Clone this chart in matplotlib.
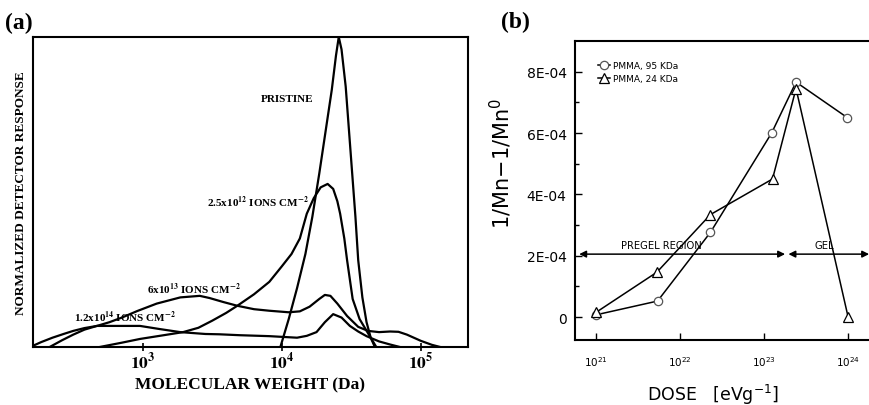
import matplotlib
matplotlib.use("Agg")
import matplotlib.pyplot as plt
import numpy as np

plt.rcParams['font.family'] = ['Liberation Serif', 'DejaVu Serif']
plt.rcParams['mathtext.fontset'] = 'stix'

# ---- panel (a): GPC traces, x as log10(MW) ----
pristine_logm = [3.99, 4.05, 4.11, 4.17, 4.22, 4.27, 4.31, 4.36, 4.39, 4.41, 4.43, 4.46,
                 4.48, 4.50, 4.53, 4.55, 4.58, 4.61, 4.64, 4.67]
pristine_resp = [0.0, 0.09, 0.19, 0.30, 0.42, 0.56, 0.68, 0.83, 0.94, 1.0, 0.96, 0.84,
                 0.72, 0.60, 0.42, 0.28, 0.16, 0.08, 0.03, 0.0]

d12_logm = [2.69, 2.85, 2.98, 3.15, 3.29, 3.40, 3.50, 3.60, 3.68, 3.80, 3.91, 4.00, 4.07,
            4.13, 4.18, 4.23, 4.28, 4.33, 4.37, 4.40, 4.42, 4.45, 4.47, 4.51, 4.56,
            4.60, 4.64, 4.68]
d12_resp = [0.0, 0.014, 0.026, 0.038, 0.048, 0.062, 0.085, 0.110, 0.133, 0.170, 0.21, 0.26,
            0.30, 0.35, 0.43, 0.48, 0.515, 0.526, 0.51, 0.47, 0.43, 0.35, 0.28, 0.155, 0.09,
            0.06, 0.03, 0.0]

d13_logm = [2.33, 2.42, 2.50, 2.58, 2.67, 2.76, 2.85, 2.96, 3.10, 3.27, 3.41, 3.48, 3.58,
            3.68, 3.80, 3.91, 4.05, 4.13, 4.20, 4.27, 4.31, 4.35, 4.40, 4.47, 4.55, 4.62,
            4.70, 4.78, 4.84, 4.90, 5.00, 5.08, 5.14]
d13_resp = [0.0, 0.022, 0.040, 0.056, 0.068, 0.080, 0.095, 0.116, 0.140, 0.160, 0.165, 0.158,
            0.145, 0.133, 0.122, 0.117, 0.112, 0.115, 0.130, 0.155, 0.168, 0.165, 0.140,
            0.100, 0.065, 0.052, 0.048, 0.050, 0.049, 0.040, 0.020, 0.007, 0.0]

d14_logm = [2.19, 2.27, 2.35, 2.43, 2.50, 2.58, 2.67, 2.80, 2.98, 3.12, 3.27, 3.45, 3.55,
            3.70, 3.91, 4.11, 4.18, 4.25, 4.31, 4.37, 4.43, 4.49, 4.55, 4.61, 4.70, 4.78, 4.85]
d14_resp = [0.0, 0.016, 0.030, 0.042, 0.052, 0.061, 0.068, 0.068, 0.068, 0.058, 0.048, 0.042,
            0.041, 0.038, 0.035, 0.030, 0.036, 0.048, 0.080, 0.106, 0.095, 0.068, 0.050,
            0.035, 0.018, 0.008, 0.0]

mw_ticks = [1e3, 1e4, 1e5]
mw_tick_labels = [r'$\mathbf{10^{3}}$', r'$\mathbf{10^{4}}$', r'$\mathbf{10^{5}}$']

# ---- panel (b): 1/Mn - 1/Mn0 versus dose ----
dose_95 = [1.0e21, 5.4e21, 2.3e22, 1.23e23, 2.4e23, 9.8e23]
inv_mn_95 = [0.07e-4, 0.52e-4, 2.76e-4, 6.0e-4, 7.66e-4, 6.5e-4]
dose_24 = [1.0e21, 5.3e21, 2.3e22, 1.26e23, 2.4e23, 1.0e24]
inv_mn_24 = [0.15e-4, 1.46e-4, 3.34e-4, 4.5e-4, 7.45e-4, 0.0]

dose_ticks = [1e21, 1e22, 1e23, 1e24]
dose_tick_labels = [r'$10^{21}$', r'$10^{22}$', r'$10^{23}$', r'$10^{24}$']
y_ticks = [0, 2e-4, 4e-4, 6e-4, 8e-4]
y_tick_labels = ['0', '2E-04', '4E-04', '6E-04', '8E-04']

pregel_span = (10**20.8, 10**23.25)
gel_span = (10**23.29, 10**24.25)
region_y = 2.05e-4

W, H = 869, 406
fig = plt.figure(figsize=(W / 100, H / 100), dpi=100)

# panel (a)
axa = fig.add_axes([33 / W, (H - 348) / H, (468 - 33) / W, (348 - 38) / H])
for xs, ys in [(pristine_logm, pristine_resp), (d12_logm, d12_resp),
               (d13_logm, d13_resp), (d14_logm, d14_resp)]:
    axa.plot(10 ** np.array(xs), ys, color='black', lw=1.6, solid_joinstyle='round')
axa.set_xscale('log')
axa.set_xlim(10 ** 2.21, 10 ** 5.34)
axa.set_ylim(0, 1.0)
axa.set_yticks([])
axa.set_xticks(mw_ticks)
axa.set_xticklabels(mw_tick_labels, fontsize=12.5)
axa.minorticks_off()
axa.tick_params(axis='x', direction='inout', length=6, width=1.2, pad=0)
for s in axa.spines.values():
    s.set_linewidth(1.5)
axa.set_xlabel('MOLECULAR WEIGHT (Da)', fontsize=12.5, fontweight='bold', labelpad=3)
axa.set_ylabel('NORMALIZED DETECTOR RESPONSE', fontsize=9.5, fontweight='bold', labelpad=4)

lab = dict(fontsize=8, fontweight='bold', ha='center', va='center')
axa.text(10 ** 4.04, 0.80, 'PRISTINE', **lab)
axa.text(10 ** 3.83, 0.47, r'2.5x10$^{\mathbf{12}}$ IONS CM$^{\mathbf{-2}}$', **lab)
axa.text(10 ** 3.37, 0.19, r'6x10$^{\mathbf{13}}$ IONS CM$^{\mathbf{-2}}$', **lab)
axa.text(10 ** 2.87, 0.097, r'1.2x10$^{\mathbf{14}}$ IONS CM$^{\mathbf{-2}}$', **lab)

fig.text(5 / W, 1 - 23 / H, '(a)', fontsize=17, fontweight='bold', va='center')
fig.text(501 / W, 1 - 22 / H, '(b)', fontsize=17, fontweight='bold', va='center')

# panel (b)
axb = fig.add_axes([575 / W, (H - 341) / H, (875 - 575) / W, (341 - 42) / H])
axb.plot(dose_95, inv_mn_95, color='black', lw=1.1, marker='o', ms=6,
         mfc='white', mec='#555555', mew=0.9, label='PMMA, 95 KDa')
axb.plot(dose_24, inv_mn_24, color='black', lw=1.1, marker='^', ms=7,
         mfc='white', mec='black', mew=0.9, label='PMMA, 24 KDa')
axb.set_xscale('log')
axb.set_xlim(10 ** 20.75, 10 ** 24.32)
axb.set_ylim(-0.75e-4, 9.0e-4)
axb.set_xticks(dose_ticks)
axb.set_xticklabels(dose_tick_labels, fontsize=7.5, family='DejaVu Sans',
                    math_fontfamily='dejavusans')
axb.xaxis.set_minor_locator(matplotlib.ticker.NullLocator())
axb.set_yticks(y_ticks)
axb.set_yticklabels(y_tick_labels, fontsize=10, family='DejaVu Sans')
axb.set_yticks([1e-4, 3e-4, 5e-4, 7e-4], minor=True)
axb.tick_params(which='both', direction='in', width=1.0)
axb.tick_params(which='major', length=5, pad=6)
axb.tick_params(axis='x', which='major', pad=10)
axb.tick_params(which='minor', length=3)
axb.spines['right'].set_visible(False)
for s in axb.spines.values():
    s.set_linewidth(1.5)
axb.set_xlabel(r'DOSE   [eVg$^{-1}$]', fontsize=12.5, family='DejaVu Sans',
               math_fontfamily='dejavusans')
axb.xaxis.set_label_coords(0.46, -0.14)
axb.set_ylabel(r'1/Mn$-$1/Mn$^{0}$', fontsize=15, family='DejaVu Sans',
               math_fontfamily='dejavusans')
axb.yaxis.set_label_coords(-0.205, 0.595)

arrow = dict(arrowstyle='<|-|>', color='black', lw=1.1, mutation_scale=10, shrinkA=0, shrinkB=0)
axb.annotate('', xy=(pregel_span[1], region_y), xytext=(pregel_span[0], region_y),
             arrowprops=arrow, annotation_clip=False)
axb.annotate('', xy=(gel_span[1], region_y), xytext=(gel_span[0], region_y),
             arrowprops=arrow, annotation_clip=False)
axb.text(10 ** 21.78, region_y + 0.3e-4, 'PREGEL REGION', fontsize=7.2,
         family='DejaVu Sans', ha='center', va='center')
axb.text(10 ** 23.72, region_y + 0.3e-4, 'GEL', fontsize=7.2,
         family='DejaVu Sans', ha='center', va='center')

leg = axb.legend(loc='upper left', bbox_to_anchor=(0.06, 0.95), frameon=False,
                 prop={'family': 'DejaVu Sans', 'size': 6.5}, handlelength=1.3,
                 handletextpad=0.3, labelspacing=0.45, borderaxespad=0.2)

fig.savefig('out.png', dpi=100)
